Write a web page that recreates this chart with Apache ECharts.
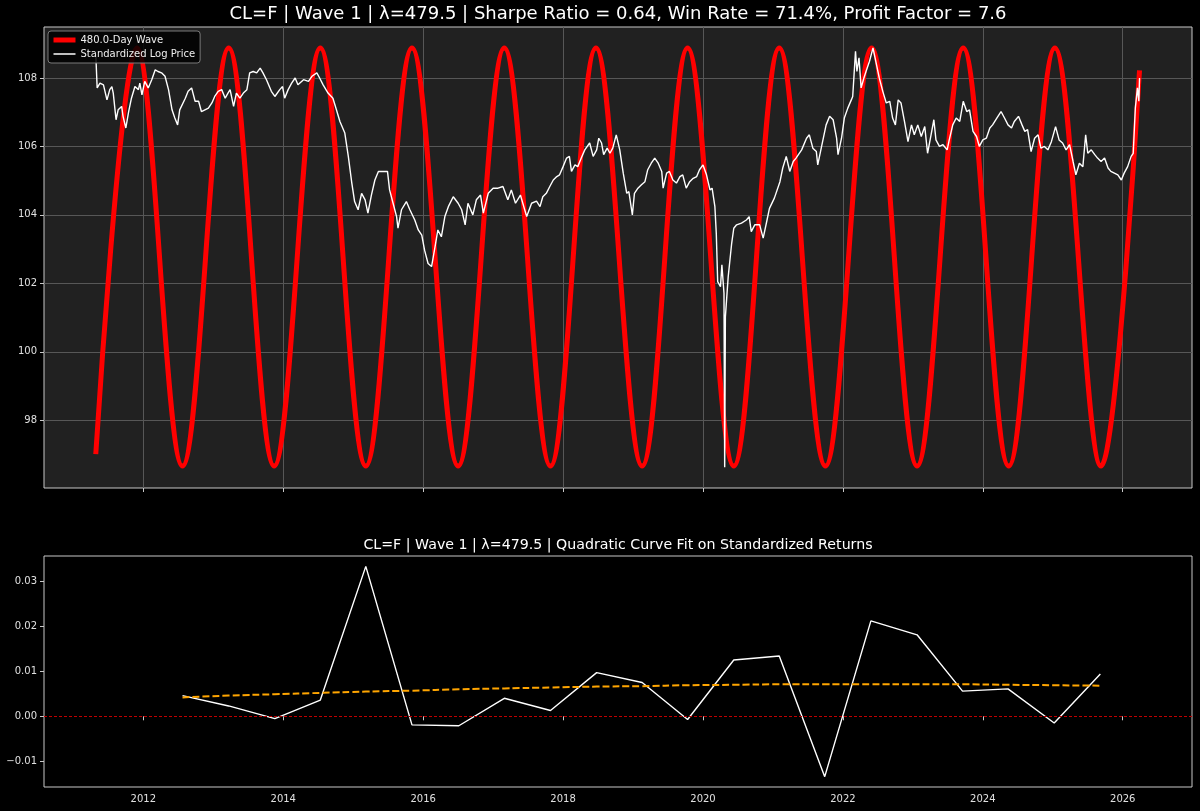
<!DOCTYPE html>
<html style="height: 100%">

<head>
  <meta charset="UTF-8" />
  <title>CL=F Wave 1</title>
  <script src="https://cdn.jsdelivr.net/npm/echarts@6/dist/echarts.min.js"></script>
</head>

<body style="height: 100%; margin: 0; background: #000">
  <div id="main" style="height: 100%"></div>
  <script>
    // tick positions
    const yearTicks = [2012, 2014, 2016, 2018, 2020, 2022, 2024, 2026];
    const priceTicks = [98, 100, 102, 104, 106, 108];
    const returnTicks = [-0.01, 0, 0.01, 0.02, 0.03];

    const waveYears = [2011.32, 2011.91, 2012.56, 2013.22, 2013.87, 2014.53, 2015.18, 2015.84,
      2016.50, 2017.16, 2017.82, 2018.47, 2019.13, 2019.78, 2020.44, 2021.09, 2021.75,
      2022.41, 2023.06, 2023.72, 2024.37, 2025.03, 2025.69, 2026.24];
    const waveValues = [97.01, 108.88, 96.66, 108.88, 96.66, 108.88, 96.66, 108.88,
      96.66, 108.88, 96.66, 108.88, 96.66, 108.88, 96.66, 108.88, 96.66,
      108.88, 96.66, 108.88, 96.66, 108.88, 96.66, 108.22];

    // standardized log price [year, value]
    const priceHistory = [
      [2011.32, 108.70], [2011.34, 107.71], [2011.38, 107.85], [2011.43, 107.80], [2011.48, 107.36],
      [2011.52, 107.66], [2011.55, 107.75], [2011.57, 107.56], [2011.61, 106.78], [2011.64, 107.07],
      [2011.69, 107.17], [2011.71, 106.88], [2011.75, 106.54], [2011.79, 107.02], [2011.83, 107.41],
      [2011.88, 107.75], [2011.93, 107.66], [2011.95, 107.85], [2011.98, 107.51], [2012.02, 107.90],
      [2012.07, 107.71], [2012.12, 107.95], [2012.17, 108.24], [2012.21, 108.19], [2012.26, 108.15],
      [2012.31, 108.05], [2012.36, 107.66], [2012.41, 107.07], [2012.45, 106.83], [2012.49, 106.63],
      [2012.52, 107.07], [2012.60, 107.41], [2012.64, 107.61], [2012.69, 107.71], [2012.74, 107.32],
      [2012.79, 107.32], [2012.83, 107.02], [2012.88, 107.07], [2012.93, 107.12], [2012.98, 107.27],
      [2013.02, 107.46], [2013.07, 107.61], [2013.12, 107.66], [2013.17, 107.41], [2013.21, 107.56],
      [2013.24, 107.66], [2013.29, 107.17], [2013.33, 107.56], [2013.38, 107.41], [2013.43, 107.56],
      [2013.48, 107.66], [2013.52, 108.15], [2013.57, 108.19], [2013.62, 108.15], [2013.67, 108.29],
      [2013.71, 108.15], [2013.76, 107.95], [2013.83, 107.61], [2013.88, 107.46], [2013.95, 107.66],
      [2013.99, 107.75], [2014.02, 107.41], [2014.07, 107.66], [2014.12, 107.85], [2014.17, 108.00],
      [2014.21, 107.80], [2014.29, 107.95], [2014.36, 107.90], [2014.41, 108.05], [2014.48, 108.15],
      [2014.52, 108.00], [2014.57, 107.80], [2014.64, 107.56], [2014.71, 107.41], [2014.76, 107.07],
      [2014.81, 106.73], [2014.88, 106.39], [2014.93, 105.71], [2014.98, 104.93], [2015.02, 104.39],
      [2015.07, 104.15], [2015.12, 104.63], [2015.17, 104.44], [2015.21, 104.05], [2015.26, 104.58],
      [2015.31, 105.02], [2015.36, 105.27], [2015.43, 105.27], [2015.49, 105.27], [2015.52, 104.73],
      [2015.57, 104.34], [2015.62, 103.95], [2015.64, 103.61], [2015.69, 104.15], [2015.76, 104.39],
      [2015.81, 104.15], [2015.88, 103.85], [2015.93, 103.56], [2015.98, 103.41], [2016.02, 102.97],
      [2016.07, 102.58], [2016.12, 102.49], [2016.17, 103.07], [2016.21, 103.56], [2016.26, 103.36],
      [2016.31, 103.95], [2016.36, 104.24], [2016.43, 104.53], [2016.50, 104.34], [2016.55, 104.15],
      [2016.60, 103.71], [2016.64, 104.34], [2016.71, 104.00], [2016.76, 104.44], [2016.82, 104.58],
      [2016.86, 104.05], [2016.93, 104.63], [2017.00, 104.78], [2017.07, 104.78], [2017.14, 104.83],
      [2017.21, 104.44], [2017.26, 104.73], [2017.32, 104.34], [2017.39, 104.58], [2017.48, 103.95],
      [2017.55, 104.34], [2017.62, 104.40], [2017.67, 104.24], [2017.71, 104.53], [2017.76, 104.63],
      [2017.81, 104.83], [2017.86, 105.02], [2017.91, 105.12], [2017.95, 105.17], [2018.00, 105.41],
      [2018.05, 105.66], [2018.09, 105.71], [2018.12, 105.27], [2018.17, 105.46], [2018.21, 105.41],
      [2018.26, 105.66], [2018.31, 105.90], [2018.38, 106.10], [2018.43, 105.71], [2018.48, 105.90],
      [2018.51, 106.24], [2018.55, 106.10], [2018.58, 105.76], [2018.63, 105.95], [2018.67, 105.80],
      [2018.71, 105.95], [2018.76, 106.34], [2018.81, 105.90], [2018.86, 105.22], [2018.91, 104.63],
      [2018.94, 104.68], [2018.99, 104.00], [2019.02, 104.63], [2019.07, 104.78], [2019.12, 104.88],
      [2019.17, 104.97], [2019.21, 105.32], [2019.26, 105.51], [2019.31, 105.66], [2019.36, 105.51],
      [2019.41, 105.27], [2019.43, 104.78], [2019.48, 105.22], [2019.52, 105.27], [2019.57, 105.02],
      [2019.62, 104.93], [2019.67, 105.12], [2019.71, 105.17], [2019.76, 104.78], [2019.81, 104.97],
      [2019.86, 105.07], [2019.91, 105.12], [2019.95, 105.32], [2020.00, 105.46], [2020.05, 105.17],
      [2020.10, 104.73], [2020.13, 104.78], [2020.17, 104.24], [2020.19, 103.46], [2020.21, 102.05],
      [2020.25, 101.90], [2020.27, 102.54], [2020.30, 101.71], [2020.31, 96.63], [2020.32, 101.02],
      [2020.36, 102.19], [2020.41, 103.17], [2020.44, 103.61], [2020.48, 103.71], [2020.55, 103.76],
      [2020.62, 103.85], [2020.66, 103.95], [2020.69, 103.51], [2020.74, 103.71], [2020.81, 103.71],
      [2020.86, 103.32], [2020.91, 103.80], [2020.95, 104.19], [2021.02, 104.49], [2021.10, 104.97],
      [2021.14, 105.37], [2021.19, 105.71], [2021.24, 105.27], [2021.29, 105.56], [2021.33, 105.66],
      [2021.41, 105.90], [2021.48, 106.24], [2021.52, 106.34], [2021.57, 105.95], [2021.62, 105.85],
      [2021.64, 105.46], [2021.69, 105.95], [2021.76, 106.63], [2021.81, 106.88], [2021.86, 106.78],
      [2021.91, 106.24], [2021.93, 105.76], [2021.98, 106.24], [2022.02, 106.83], [2022.07, 107.12],
      [2022.12, 107.36], [2022.14, 107.46], [2022.18, 108.78], [2022.20, 108.19], [2022.23, 108.59],
      [2022.26, 107.71], [2022.30, 108.00], [2022.33, 108.19], [2022.38, 108.49], [2022.43, 108.88],
      [2022.48, 108.39], [2022.52, 108.00], [2022.57, 107.61], [2022.62, 107.27], [2022.67, 107.32],
      [2022.71, 106.83], [2022.75, 106.63], [2022.79, 107.36], [2022.83, 107.27], [2022.88, 106.73],
      [2022.93, 106.14], [2022.98, 106.63], [2023.02, 106.34], [2023.07, 106.63], [2023.12, 106.29],
      [2023.17, 106.58], [2023.21, 105.80], [2023.26, 106.34], [2023.30, 106.78], [2023.33, 106.19],
      [2023.38, 106.00], [2023.43, 106.05], [2023.49, 105.90], [2023.52, 106.19], [2023.57, 106.63],
      [2023.62, 106.83], [2023.67, 106.73], [2023.72, 107.32], [2023.77, 107.02], [2023.81, 107.07],
      [2023.86, 106.44], [2023.91, 106.29], [2023.95, 106.00], [2024.00, 106.19], [2024.05, 106.24],
      [2024.10, 106.54], [2024.14, 106.63], [2024.20, 106.83], [2024.26, 107.02], [2024.31, 106.83],
      [2024.36, 106.63], [2024.41, 106.54], [2024.45, 106.73], [2024.51, 106.88], [2024.56, 106.63],
      [2024.60, 106.44], [2024.64, 106.49], [2024.69, 105.85], [2024.74, 106.24], [2024.79, 106.34],
      [2024.83, 105.95], [2024.88, 106.00], [2024.93, 105.90], [2024.98, 106.14], [2025.04, 106.58],
      [2025.09, 106.19], [2025.14, 106.10], [2025.19, 105.90], [2025.24, 106.05], [2025.29, 105.56],
      [2025.33, 105.17], [2025.38, 105.51], [2025.43, 105.41], [2025.47, 106.34], [2025.50, 105.80],
      [2025.55, 105.90], [2025.60, 105.76], [2025.64, 105.66], [2025.69, 105.56], [2025.74, 105.66],
      [2025.79, 105.37], [2025.83, 105.27], [2025.88, 105.22], [2025.93, 105.17], [2025.98, 105.02],
      [2026.02, 105.22], [2026.07, 105.41], [2026.12, 105.71], [2026.15, 105.80], [2026.18, 107.12],
      [2026.21, 107.71], [2026.23, 107.32], [2026.24, 108.00]
    ];

    // returns per half-cycle and the quadratic fit through them
    const returnYears = [2012.56, 2013.22, 2013.88, 2014.53, 2015.18, 2015.84, 2016.51, 2017.16,
      2017.82, 2018.48, 2019.13, 2019.78, 2020.44, 2021.09, 2021.74, 2022.40, 2023.06,
      2023.71, 2024.36, 2025.02, 2025.68];
    const returnValues = [0.0046, 0.0023, -0.0005, 0.0036, 0.0333, -0.0019, -0.0021, 0.0040,
      0.0013, 0.0097, 0.0075, -0.0007, 0.0125, 0.0134, -0.0134, 0.0212, 0.0181,
      0.0056, 0.0061, -0.0015, 0.0094];
    const fitValues = [0.0042, 0.0046, 0.0049, 0.0052, 0.0055, 0.0057, 0.0060, 0.0062,
      0.0064, 0.0066, 0.0067, 0.0069, 0.0070, 0.0071, 0.0071, 0.0071, 0.0071,
      0.0071, 0.0070, 0.0069, 0.0068];

    const zip = (xs, ys) => xs.map((x, i) => [x, ys[i]]);
    const font = 'DejaVu Sans';
    const labelText = { color: '#e0e0e0', fontSize: 10, fontFamily: font };
    const tickStyle = { color: '#c8c8c8', width: 1 };
    const gridLine = { color: '#575757', width: 1 };

    function yearAxis(gridIndex, showLabels, showGrid) {
      return {
        type: 'value',
        gridIndex: gridIndex,
        min: 2010.58,
        max: 2026.99,
        axisLine: { show: false },
        axisTick: { show: true, length: 4, customValues: yearTicks, lineStyle: tickStyle },
        axisLabel: Object.assign({
          show: showLabels,
          customValues: yearTicks,
          margin: 7,
          formatter: (v) => String(v),
        }, labelText),
        splitLine: { show: showGrid, lineStyle: gridLine },
      };
    }

    const chart = echarts.init(document.getElementById('main'));

    const option = {
      animation: false,
      backgroundColor: '#000',
      title: [
        {
          text: 'CL=F | Wave 1 | λ=479.5 | Sharpe Ratio = 0.64, Win Rate = 71.4%, Profit Factor = 7.6',
          left: 618,
          top: 5,
          padding: 0,
          textAlign: 'center',
          textStyle: { color: '#fff', fontSize: 18, fontWeight: 'normal', fontFamily: font },
        },
        {
          text: 'CL=F | Wave 1 | λ=479.5 | Quadratic Curve Fit on Standardized Returns',
          left: 618,
          top: 538,
          padding: 0,
          textAlign: 'center',
          textStyle: { color: '#fff', fontSize: 14.2, fontWeight: 'normal', fontFamily: font },
        },
      ],
      legend: {
        data: [
          { name: '480.0-Day Wave', lineStyle: { width: 5 } },
          { name: 'Standardized Log Price', lineStyle: { width: 1.5 } },
        ],
        orient: 'vertical',
        left: 48,
        top: 31,
        padding: [4, 5, 4, 3],
        itemGap: 4,
        itemWidth: 22,
        itemHeight: 10,
        itemStyle: { opacity: 0 },
        backgroundColor: 'rgba(0,0,0,0.85)',
        borderColor: '#7a7a7a',
        borderWidth: 1,
        borderRadius: 3,
        textStyle: { color: '#eee', fontSize: 10, fontFamily: font },
      },
      grid: [
        { left: 44, right: 8, top: 27, bottom: 323, show: true, backgroundColor: '#212121', borderColor: '#c8c8c8', borderWidth: 1 },
        { left: 44, right: 8, top: 556, bottom: 24, show: true, backgroundColor: '#000', borderColor: '#c8c8c8', borderWidth: 1 },
      ],
      xAxis: [yearAxis(0, false, true), yearAxis(1, true, false)],
      yAxis: [
        {
          type: 'value',
          gridIndex: 0,
          min: 96.02,
          max: 109.49,
          axisLine: { show: false },
          axisTick: { show: true, length: 4, customValues: priceTicks, lineStyle: tickStyle },
          axisLabel: Object.assign({ customValues: priceTicks, margin: 7 }, labelText),
          splitLine: { show: true, lineStyle: gridLine },
        },
        {
          type: 'value',
          gridIndex: 1,
          min: -0.0157,
          max: 0.0356,
          axisLine: { show: false },
          axisTick: { show: true, length: 4, customValues: returnTicks, lineStyle: tickStyle },
          axisLabel: Object.assign({
            customValues: returnTicks,
            margin: 7,
            formatter: (v) => v.toFixed(2).replace('-', '\u2212'),
          }, labelText),
          splitLine: { show: false },
        },
      ],
      series: [
        {
          name: '480.0-Day Wave',
          type: 'line',
          xAxisIndex: 0,
          yAxisIndex: 0,
          data: zip(waveYears, waveValues),
          smooth: 0.363,
          symbol: 'none',
          silent: true,
          lineStyle: { color: '#ff0000', width: 5 },
          itemStyle: { color: '#ff0000' },
        },
        {
          name: 'Standardized Log Price',
          type: 'line',
          xAxisIndex: 0,
          yAxisIndex: 0,
          data: priceHistory,
          symbol: 'none',
          silent: true,
          lineStyle: { color: '#ffffff', width: 1.4 },
          itemStyle: { color: '#ffffff' },
        },
        {
          name: 'Returns',
          type: 'line',
          xAxisIndex: 1,
          yAxisIndex: 1,
          data: zip(returnYears, returnValues),
          symbol: 'none',
          silent: true,
          lineStyle: { color: '#ffffff', width: 1.4 },
          markLine: {
            silent: true,
            symbol: 'none',
            label: { show: false },
            lineStyle: { color: '#c00000', type: [3, 2], width: 1 },
            data: [{ yAxis: 0 }],
          },
        },
        {
          name: 'Quadratic Fit',
          type: 'line',
          xAxisIndex: 1,
          yAxisIndex: 1,
          data: zip(returnYears, fitValues),
          smooth: true,
          symbol: 'none',
          silent: true,
          lineStyle: { color: '#ffa500', width: 2, type: [7, 3] },
        },
      ],
    };

    chart.setOption(option);
  </script>
</body>

</html>
